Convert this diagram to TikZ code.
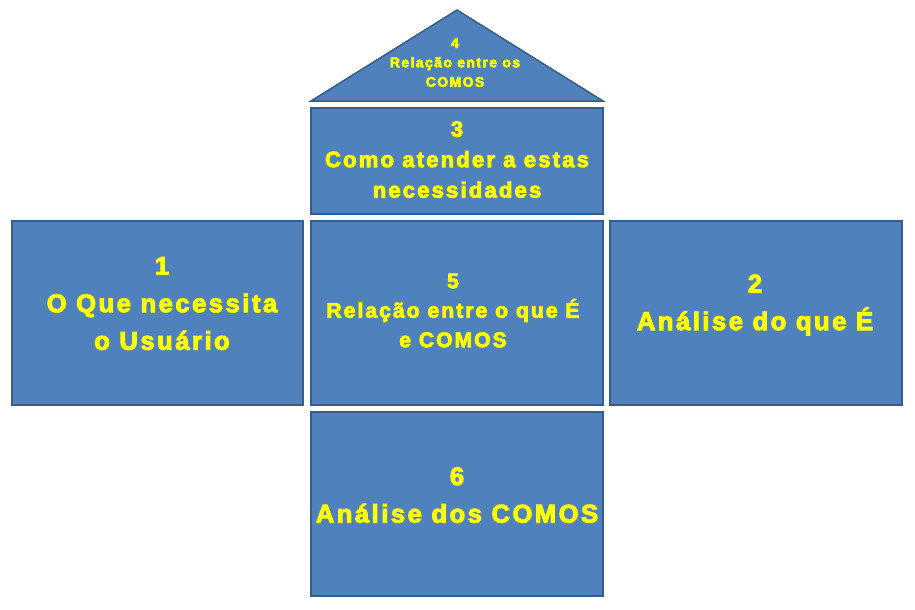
\documentclass[tikz,border=0pt]{standalone}
\usepackage{fontspec}
\setmainfont{Liberation Sans}[LetterSpace=10, BoldFeatures={FakeBold=4}]
\definecolor{boxfill}{HTML}{4F81BD}
\definecolor{boxline}{HTML}{385D8A}
\definecolor{txt}{HTML}{FFFF00}
\begin{document}
\begin{tikzpicture}[x=1pt,y=-1pt,
  panel/.style={draw=boxline, fill=boxfill, line width=1.5pt, inner sep=0pt, outer sep=0pt},
  lbl/.style={text=txt, align=center, inner sep=0pt, font=\bfseries\fontsize{25.5}{37.5}\selectfont},
  lblm/.style={lbl, font=\bfseries\fontsize{22}{30.5}\selectfont},
  lbls/.style={lbl, font=\bfseries\fontsize{21}{29.5}\selectfont},
  lblt/.style={lbl, font=\bfseries\fontsize{14}{19.5}\selectfont}]
\useasboundingbox (0,0) rectangle (915,610);
% roof
\coordinate (apex) at (457,10);
\coordinate (rl) at (311,101);
\coordinate (rr) at (603,101);
\draw[panel] (rl) -- (apex) -- (rr) -- cycle;
% boxes
\node[panel, minimum width=291, minimum height=184] (b1) at (157.5,313) {};
\node[panel, minimum width=292, minimum height=184] (b5) at (457,313) {};
\node[panel, minimum width=292, minimum height=184] (b2) at (756,313) {};
\node[panel, minimum width=292, minimum height=184] (b6) at (457,504) {};
\node[panel, minimum width=292, minimum height=106] (b3) at (457,161) {};
% labels
\node[lblt] (t4) at (455,62.5) {4\\Relação entre os\\COMOS};
\node[lblm] (t3) at (457,159.5) {3\\Como atender a estas\\necessidades};
\node[lbl] (t1) at (162,303.5) {1\\O Que necessita\\o Usuário};
\node[lbls] (t5) at (453,310.5) {5\\Relação entre o que É\\e COMOS};
\node[lbl] (t2) at (755,305) {2\\Análise do que É};
\node[lbl] (t6) at (457,495) {6\\Análise dos COMOS};
\end{tikzpicture}
\end{document}
